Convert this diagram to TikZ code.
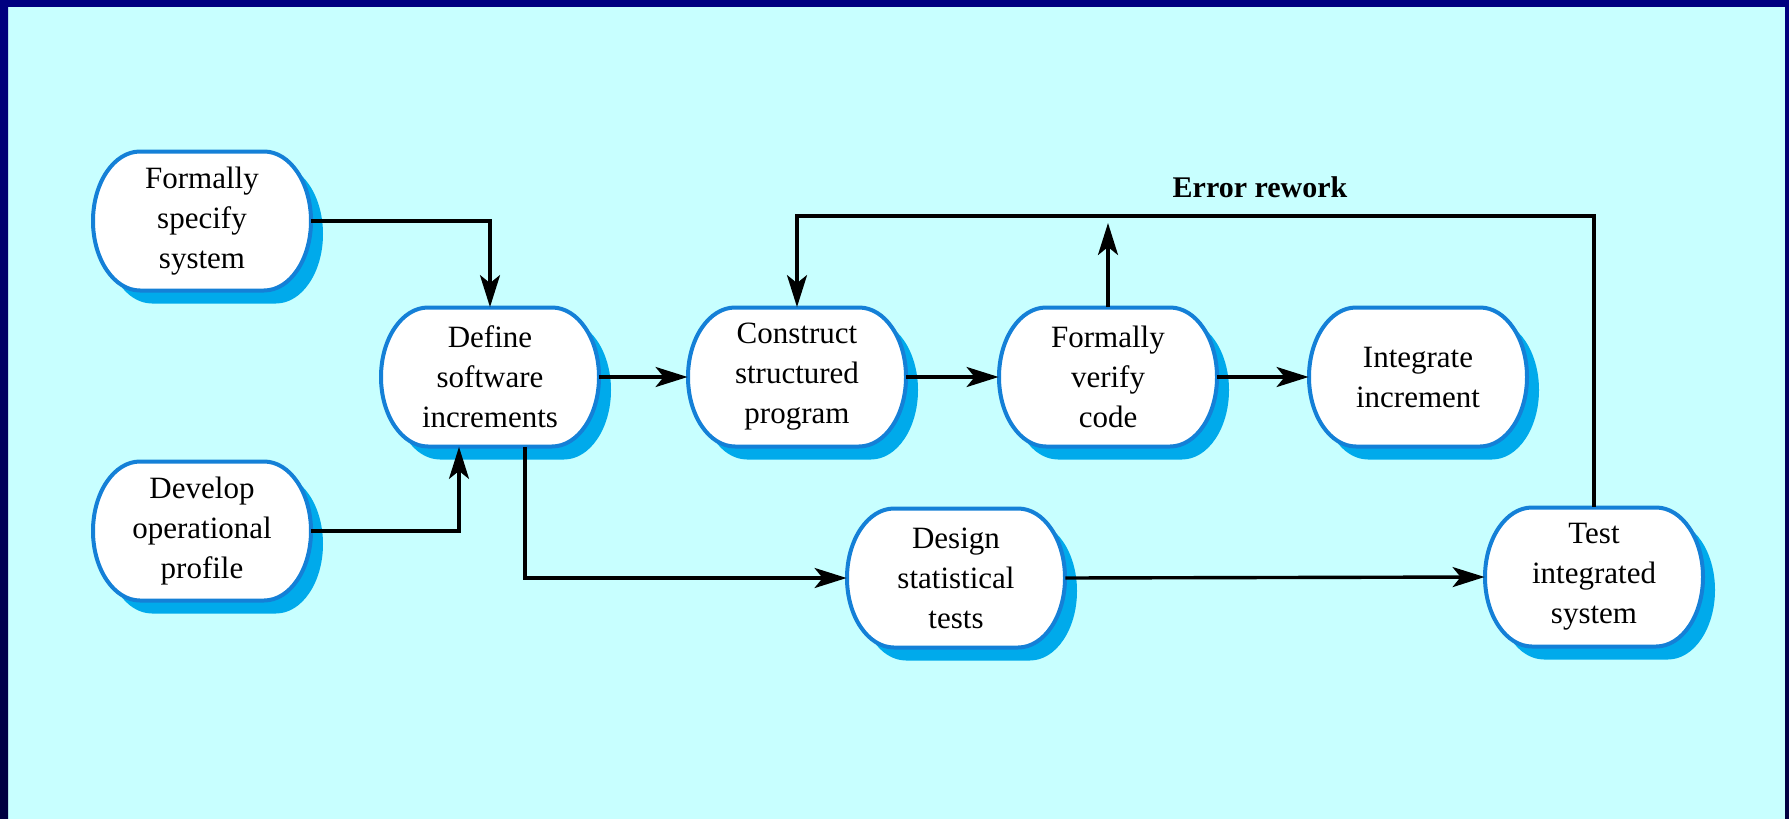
\documentclass[tikz,border=0pt]{standalone}
\usepackage{fontspec}
\setmainfont{Liberation Serif}
\usetikzlibrary{arrows.meta,calc}
\definecolor{bgcyan}{RGB}{200,255,255}
\definecolor{navyA}{RGB}{0,0,128}
\definecolor{navyB}{RGB}{0,0,64}
\definecolor{nodeblue}{RGB}{20,128,215}
\definecolor{shadowblue}{RGB}{0,170,235}
\tikzset{
  proctext/.style={minimum width=109pt,minimum height=69.5pt,inner sep=0pt,align=center,
    font=\fontsize{15.5}{20}\selectfont},
  conn/.style={line width=1.7pt,-{Stealth[length=16pt,width=10pt,inset=4pt]}},
  lbl/.style={font=\bfseries\fontsize{15}{18}\selectfont,anchor=base,inner sep=0pt}
}
\newcommand\proc[3]{%
  \fill[shadowblue,shift={($(#2)+(12,13)$)}] (-62,69.5) -- (62,69.5)
    arc[start angle=-90,end angle=90,x radius=23.5pt,y radius=34.75pt] -- (-62,-69.5)
    arc[start angle=90,end angle=270,x radius=23.5pt,y radius=34.75pt] -- cycle;
  \filldraw[fill=white,draw=nodeblue,line width=2pt,shift={(#2)}] (-62,69.5) -- (62,69.5)
    arc[start angle=-90,end angle=90,x radius=23.5pt,y radius=34.75pt] -- (-62,-69.5)
    arc[start angle=90,end angle=270,x radius=23.5pt,y radius=34.75pt] -- cycle;
  \node[proctext] (#1) at (#2) {#3};
}
\begin{document}
\begin{tikzpicture}[x=0.5pt,y=-0.5pt]
\useasboundingbox (0,0) rectangle (1789,819);
\fill[bgcyan] (0,0) rectangle (1789,819);
\fill[navyA] (0,0) rectangle (1789,7);
\shade[top color=navyA,bottom color=navyB] (0,0) rectangle (8,819);
\shade[top color=navyA,bottom color=navyB] (1785,0) rectangle (1789,819);

\proc{spec}{202,221}{Formally\\specify\\system}
\proc{dev}{202,531}{Develop\\operational\\profile}
\proc{define}{490,377}{Define\\software\\increments}
\proc{construct}{797,377}{Construct\\structured\\program}
\proc{verify}{1108,377}{Formally\\verify\\code}
\proc{integrate}{1418,377}{Integrate\\increment}
\proc{design}{956,578}{Design\\statistical\\tests}
\proc{test}{1594,577}{Test\\integrated\\system}

\coordinate (errtip) at (1108,223);
\coordinate (errline) at (0,216);

\draw[conn] (spec.east) -| (define.north);
\draw[conn] (dev.east) -| ($(define.south)+(-31,0)$);
\draw[conn] ($(define.south)+(35,0)$) |- (design.west);
\draw[conn] (define.east) -- (construct.west);
\draw[conn] (construct.east) -- (verify.west);
\draw[conn] (verify.east) -- (integrate.west);
\draw[conn] (verify.north) -- (errtip);
\draw[conn] (test.north) -- (test.north |- errline) -| (construct.north);
\draw[conn] (design.east) -- (test.west);

\node[lbl] (errlabel) at (1260,197) {Error rework};
\end{tikzpicture}
\end{document}
